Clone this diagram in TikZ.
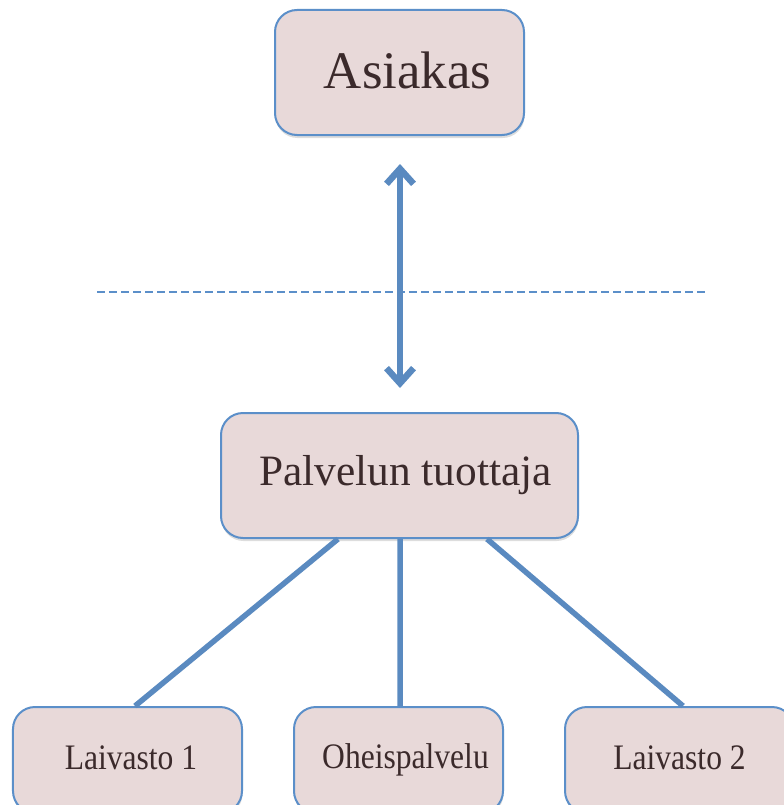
\documentclass[tikz,border=0pt]{standalone}
\usepackage{fontspec}
\setmainfont{Liberation Serif}
\newfontfamily\narrowserif[FakeStretch=0.88]{Liberation Serif}
\usetikzlibrary{arrows.meta,shadows}

\definecolor{boxfill}{HTML}{E8D9D9}
\definecolor{boxline}{HTML}{5B8FC9}
\definecolor{linkblue}{HTML}{5A8AC0}
\definecolor{inkbrown}{HTML}{3B2A2B}

\tikzset{
  roundbox/.style={draw=boxline, line width=2bp, fill=boxfill,
    rounded corners=22bp, inner sep=0pt, text=inkbrown,
    drop shadow={shadow xshift=0.5bp, shadow yshift=-3bp, opacity=0.22, fill=black!60}},
  link/.style={draw=linkblue, line width=5.5bp},
  twoway/.style={draw=linkblue, line width=6.5bp,
    {Straight Barb[length=15bp,width=27bp]}-{Straight Barb[length=15bp,width=27bp]}},
  divider/.style={draw=boxline, line width=1.6bp, dash pattern=on 8bp off 4bp}
}

\begin{document}
\begin{tikzpicture}[x=1bp, y=-1bp]
  \useasboundingbox (0,0) rectangle (784,805);

  % customer and provider
  \node[roundbox, minimum width=249bp, minimum height=125bp,
        font=\fontsize{53}{60}\selectfont] (asiakas) at (399.5,72.5)
        {\hspace*{16bp}\raisebox{4bp}{Asiakas}};
  \node[roundbox, minimum width=357bp, minimum height=125bp,
        font=\fontsize{43.5}{50}\selectfont] (tuottaja) at (399.5,475.5)
        {\hspace*{12bp}\raisebox{2bp}{Palvelun tuottaja}};

  % units below the provider
  \node[roundbox, minimum width=229bp, minimum height=106bp,
        font=\narrowserif\fontsize{36}{40}\selectfont] (laiva1) at (127.5,760)
        {\hspace*{7bp}\raisebox{5bp}{Laivasto 1}};
  \node[roundbox, minimum width=209bp, minimum height=106bp,
        font=\narrowserif\fontsize{36}{40}\selectfont] (oheis) at (398.5,760)
        {\hspace*{14bp}\raisebox{5bp}{Oheispalvelu}};
  \node[roundbox, minimum width=229bp, minimum height=106bp,
        font=\narrowserif\fontsize{36}{40}\selectfont] (laiva2) at (679.5,760)
        {\raisebox{5bp}{Laivasto 2}};

  % boundary line
  \coordinate (rajaL) at (97,292);
  \coordinate (rajaR) at (705,292);
  \draw[divider] (rajaL) -- (rajaR);

  % two-way link between customer and provider
  \draw[twoway, shorten <=28bp, shorten >=24bp]
    (asiakas.south -| 400,0) -- (tuottaja.north -| 400,0);

  % provider to units
  \draw[link] ([xshift=-61.5bp]tuottaja.south) -- ([xshift=7.5bp]laiva1.north);
  \draw[link] ([xshift=0.5bp]tuottaja.south) -- ([xshift=1.5bp]oheis.north);
  \draw[link] ([xshift=87.5bp]tuottaja.south) -- ([xshift=3.5bp]laiva2.north);
\end{tikzpicture}
\end{document}
